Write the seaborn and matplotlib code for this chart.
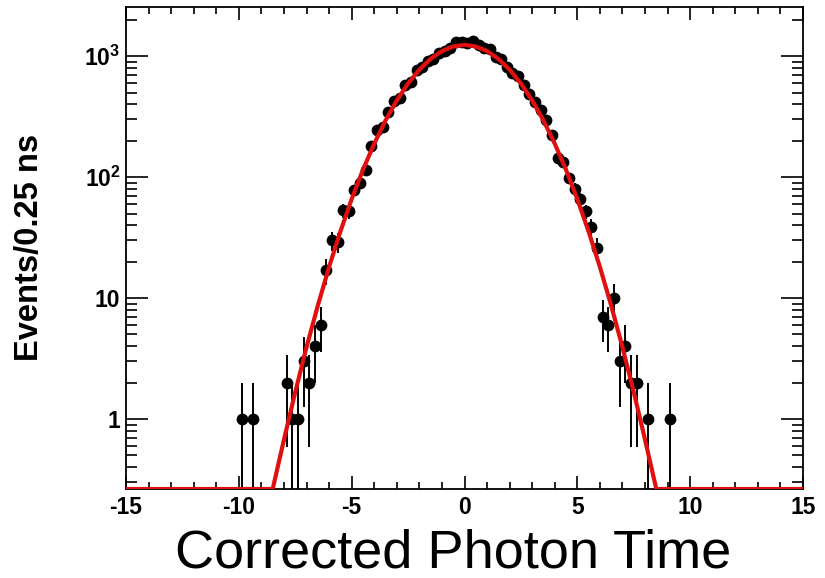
import numpy as np
import pandas as pd
import seaborn as sns
import matplotlib
matplotlib.use("Agg")
import matplotlib.pyplot as plt
from matplotlib import font_manager
from matplotlib.ticker import FixedLocator, MultipleLocator, NullFormatter

# ---------------- data ----------------
bin_centers = [-9.875, -9.375, -7.875, -7.625, -7.375, -7.125, -6.875, -6.625,
               -6.375, -6.125, -5.875, -5.625, -5.375, -5.125, -4.875, -4.625,
               -4.375, -4.125, -3.875, -3.625, -3.375, -3.125, -2.875, -2.625,
               -2.375, -2.125, -1.875, -1.625, -1.375, -1.125, -0.875, -0.625,
               -0.375, -0.125, 0.125, 0.375, 0.625, 0.875, 1.125, 1.375,
               1.625, 1.875, 2.125, 2.375, 2.625, 2.875, 3.125, 3.375,
               3.625, 3.875, 4.125, 4.375, 4.625, 4.875, 5.125, 5.375,
               5.625, 5.875, 6.125, 6.375, 6.625, 6.875, 7.125, 7.375,
               7.625, 8.125, 9.125]
counts = [1, 1, 2, 1, 1, 3, 2, 4,
          6, 17, 30, 29, 53, 52, 78, 90,
          115, 180, 245, 262, 347, 425, 455, 580,
          615, 775, 810, 915, 945, 1070, 1100, 1160,
          1300, 1320, 1290, 1330, 1240, 1170, 1140, 990,
          940, 815, 720, 680, 575, 490, 420, 358,
          298, 222, 143, 134, 98, 80, 66, 52,
          39, 26, 7, 6, 10, 3, 4, 2,
          2, 1, 1]

# fitted curve, values
fit_x = [-15.0, -8.5, -8.0, -7.5, -7.0, -6.5, -6.0, -5.5, -5.0, -4.5, -4.0,
         -3.5, -3.0, -2.5, -2.0, -1.5, -1.0, -0.5, 0.0, 0.5, 1.0, 1.5, 2.0,
         2.5, 3.0, 3.5, 4.0, 4.5, 5.0, 5.5, 6.0, 6.5, 7.0, 7.5, 8.0, 8.5, 15.0]
fit_y = [0.0, 0.256, 0.675, 1.67, 3.93, 8.67, 18.1, 35.5, 65.8, 115, 189,
         294, 431, 594, 774, 950, 1102, 1203, 1240, 1203, 1102, 950, 774,
         594, 431, 294, 189, 115, 65.8, 35.5, 18.1, 8.67, 3.93, 1.67, 0.675, 0.256, 0.0]

x_ticks = [-15, -10, -5, 0, 5, 10, 15]
y_ticks = [1, 10, 100, 1000]
y_ticklabels = ["1", "10", r"$\mathbf{10^{2}}$", r"$\mathbf{10^{3}}$"]

x_label = "Corrected Photon Time"
y_label = "Events/0.25 ns"

# ---------------- style ----------------
sns.set_theme(style="ticks")
plt.rcParams["font.family"] = ["Liberation Sans", "DejaVu Sans"]
plt.rcParams["mathtext.fontset"] = "custom"
plt.rcParams["mathtext.bf"] = "Liberation Sans:bold"
plt.rcParams["mathtext.rm"] = "Liberation Sans"

available = {f.name for f in font_manager.fontManager.ttflist}
narrow = "Liberation Sans Narrow" if "Liberation Sans Narrow" in available else "Liberation Sans"

YMIN, YMAX = 0.264, 2550

fig = plt.figure(figsize=(8.25, 5.78), dpi=100)
ax = fig.add_axes([126 / 825, 1 - 489 / 578, (803 - 126) / 825, (489 - 7) / 578])

df = pd.DataFrame({"t": bin_centers, "n": counts})
df["err"] = np.sqrt(df["n"])
df["lo"] = np.clip(df["n"] - df["err"], 1e-3, None)
df["hi"] = df["n"] + df["err"]

fit = pd.DataFrame({"t": fit_x, "f": np.clip(fit_y, YMIN, None)})

ax.set_yscale("log")

# error bars
ax.vlines(df["t"], df["lo"], df["hi"], color="black", lw=1.4, zorder=2)
# points
sns.scatterplot(data=df, x="t", y="n", ax=ax, color="black", s=72,
                edgecolor="black", linewidth=0, zorder=3, legend=False)
# fit curve
sns.lineplot(data=fit, x="t", y="f", ax=ax, color="#e01010", lw=3.0,
             zorder=4, sort=False, legend=False, clip_on=True)

ax.set_xlim(-15, 15)
ax.set_ylim(YMIN, YMAX)

ax.xaxis.set_major_locator(FixedLocator(x_ticks))
ax.xaxis.set_minor_locator(MultipleLocator(1))
ax.set_xticklabels([str(v) for v in x_ticks])
ax.yaxis.set_major_locator(FixedLocator(y_ticks))
ax.yaxis.set_minor_locator(FixedLocator(
    [m * 10.0 ** e for e in range(-1, 4) for m in range(2, 10)]))
ax.yaxis.set_minor_formatter(NullFormatter())
ax.set_yticklabels(y_ticklabels)

ax.tick_params(axis="both", which="both", direction="in", top=True, right=True,
               colors="black", width=1.2)
ax.tick_params(axis="x", which="major", length=9.5, pad=5, labelsize=16.5)
ax.tick_params(axis="x", which="minor", length=5)
ax.tick_params(axis="y", which="major", length=16, pad=4, labelsize=16.5)
ax.tick_params(axis="y", which="minor", length=8)
for lab in ax.get_xticklabels() + ax.get_yticklabels():
    lab.set_fontweight("bold")

for sp in ax.spines.values():
    sp.set_color("black")
    sp.set_linewidth(1.3)

ax.set_xlabel("")
ax.set_ylabel("")

fig.text(30 / 825, 1 - 247 / 578, y_label, rotation=90, ha="center", va="center",
         fontsize=23.5, fontweight="bold", color="black")
fig.text(453 / 825, 1 - 553 / 578, x_label, ha="center", va="center",
         fontsize=39, family=[narrow, "DejaVu Sans"], color="black")

fig.savefig("out.png", dpi=100, facecolor="white")
